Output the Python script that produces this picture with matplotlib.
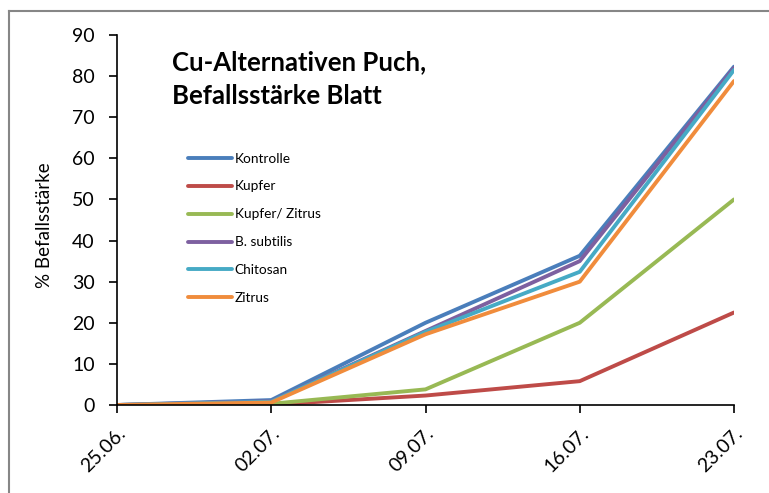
import matplotlib
matplotlib.use("Agg")
import matplotlib.pyplot as plt
from matplotlib.lines import Line2D

dates = ["25.06.", "02.07.", "09.07.", "16.07.", "23.07."]
kontrolle = [0, 1.2, 20.0, 36.3, 82.3]
kupfer = [0, 0.1, 2.3, 5.8, 22.5]
kupfer_zitrus = [0, 0.3, 3.8, 20.0, 50.0]
b_subtilis = [0, 0.9, 18.0, 35.0, 82.0]
chitosan = [0, 0.8, 17.8, 32.4, 81.5]
zitrus = [0, 0.6, 17.2, 30.0, 78.8]

series = [
    ("Kontrolle", kontrolle, "#4A7EBB"),
    ("Kupfer", kupfer, "#BE4B48"),
    ("Kupfer/ Zitrus", kupfer_zitrus, "#98B954"),
    ("B. subtilis", b_subtilis, "#7D60A0"),
    ("Chitosan", chitosan, "#46AAC5"),
    ("Zitrus", zitrus, "#F08C3C"),
]

plt.rcParams['font.family'] = ['Lato', 'DejaVu Sans']

fig = plt.figure(figsize=(7.69, 4.93), dpi=100)
ax = fig.add_axes([117/769, 1-405/493, (734-117)/769, (405-35)/493])

x = list(range(len(dates)))
for name, vals, col in series:
    ax.plot(x, vals, color=col, lw=2.8, label=name, solid_capstyle='round')

ax.set_xlim(0, 4)
ax.set_ylim(0, 90)
ax.set_yticks(range(0, 91, 10))
ax.set_xticks(x)
ax.set_xticklabels(dates, rotation=45, ha='right', rotation_mode='anchor', fontsize=14)
ax.tick_params(axis='y', labelsize=14, direction='out', length=6, width=1.2, pad=10)
ax.tick_params(axis='x', direction='out', length=6, width=1.2, pad=8)
for s in ['top', 'right']:
    ax.spines[s].set_visible(False)
for s in ['left', 'bottom']:
    ax.spines[s].set_linewidth(1.2)
ax.set_ylabel("% Befallsstärke", fontsize=13.5)
ax.yaxis.set_label_coords(-0.104, 0.486)

fig.text(172/769, 1-50/493, "Cu-Alternativen Puch,\nBefallsstärke Blatt",
         fontsize=18.5, fontweight='bold', va='top', ha='left', linespacing=1.5)

leg = ax.legend(loc='upper left', bbox_to_anchor=(0.107, 0.697), frameon=False, fontsize=9.8,
                handlelength=3.2, handletextpad=0.2, labelspacing=1.17, borderaxespad=0)

# outer chart frame (partly cut by image edges)
fig.add_artist(Line2D([9/769, 1.0], [1-11/493, 1-11/493], color='#868686', lw=1.5))
fig.add_artist(Line2D([9/769, 9/769], [0, 1-11/493], color='#868686', lw=1.5))

fig.savefig("out.png", dpi=100)
